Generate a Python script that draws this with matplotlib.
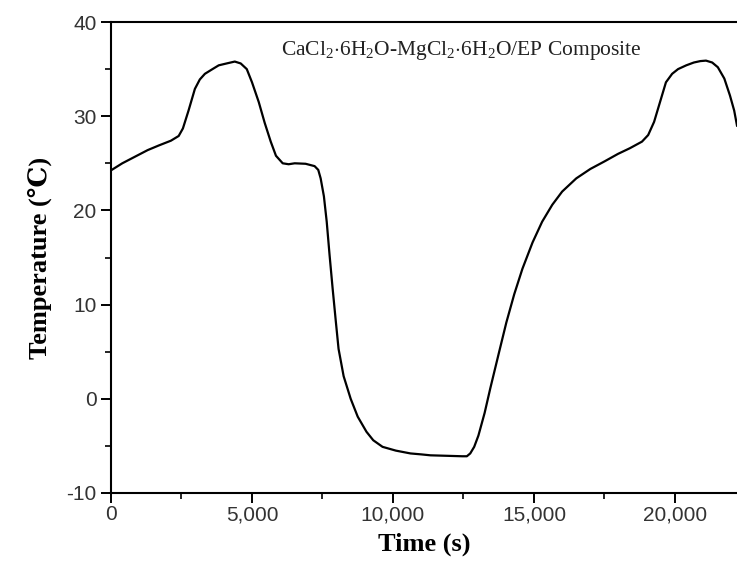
import numpy as np
import matplotlib.pyplot as plt
from matplotlib.ticker import MultipleLocator, StrMethodFormatter

# time (s) and temperature (C)
time_s = [0, 400, 850, 1300, 1700, 2125, 2400, 2550, 2750, 2975, 3150, 3330,
          3600, 3820, 4100, 4390, 4600, 4815, 5000, 5240, 5450, 5665, 5850,
          6090, 6300, 6515, 6900, 7220, 7350, 7435, 7550, 7650, 7750, 7860,
          7970, 8070, 8250, 8500, 8750, 9060, 9300, 9630, 10100, 10620,
          11000, 11330, 11900, 12460, 12620, 12740, 12880, 13030, 13250,
          13450, 13750, 14020, 14300, 14590, 14950, 15290, 15650, 16000,
          16500, 17000, 17500, 17980, 18400, 18830, 19050, 19260, 19480,
          19680, 19900, 20110, 20400, 20670, 20900, 21100, 21320, 21520,
          21750, 21950, 22100, 22200]
temp_c = [24.25, 25.0, 25.7, 26.4, 26.9, 27.4, 27.9, 28.7, 30.6, 32.9, 33.9, 34.5,
          35.0, 35.4, 35.6, 35.8, 35.6, 35.0, 33.6, 31.5, 29.3, 27.3, 25.8,
          25.0, 24.9, 25.0, 24.95, 24.7, 24.3, 23.4, 21.5, 18.8, 15.3, 11.7,
          8.3, 5.3, 2.4, 0.0, -1.9, -3.5, -4.4, -5.1, -5.5, -5.8,
          -5.9, -6.0, -6.05, -6.1, -6.1, -5.8, -5.1, -3.9, -1.5,
          1.1, 4.8, 8.1, 11.1, 13.8, 16.6, 18.8, 20.6, 22.0,
          23.4, 24.4, 25.2, 26.0, 26.6, 27.3, 28.0, 29.4, 31.6,
          33.6, 34.5, 35.0, 35.4, 35.7, 35.85, 35.9, 35.7, 35.2,
          34.0, 32.2, 30.6, 29.0]

x_ticks = [0, 5000, 10000, 15000, 20000]
y_ticks = [-10, 0, 10, 20, 30, 40]
label_text = r'CaCl$_2$$\cdot$6H$_2$O-MgCl$_2$$\cdot$6H$_2$O/EP Composite'

plt.rcParams['mathtext.fontset'] = 'custom'
plt.rcParams['mathtext.rm'] = 'Liberation Serif'
plt.rcParams['mathtext.it'] = 'Liberation Serif:italic'
plt.rcParams['axes.unicode_minus'] = False

fig = plt.figure(figsize=(7.37, 5.70), dpi=100)
ax = fig.add_axes([111/737, 1 - 493/570, 1 - 111/737, (493 - 22)/570])

ax.plot(time_s, temp_c, color='black', linewidth=1.6)

ax.set_xlim(0, 22200)
ax.set_ylim(-10, 40)
ax.set_xticks(x_ticks)
ax.set_yticks(y_ticks)
ax.xaxis.set_minor_locator(MultipleLocator(2500))
ax.yaxis.set_minor_locator(MultipleLocator(5))
ax.xaxis.set_major_formatter(StrMethodFormatter('{x:,.0f}'))

ax.tick_params(which='major', direction='out', length=7, width=1.4,
               labelsize=15, labelcolor='#333333')
ax.tick_params(axis='x', which='major', pad=2)
ax.tick_params(which='minor', direction='out', length=4, width=1.2)
for lbl in ax.get_xticklabels() + ax.get_yticklabels():
    lbl.set_family('Liberation Sans')

for side in ['left', 'bottom', 'top']:
    ax.spines[side].set_linewidth(1.5)
ax.spines['right'].set_visible(False)

ax.set_xlabel('Time (s)', fontsize=19, fontweight='bold',
              family='Liberation Serif', labelpad=6)
ax.set_ylabel('Temperature (℃)', fontsize=19, fontweight='bold',
              family=['Liberation Serif', 'DejaVu Serif'], labelpad=10)

ax.text(0.56, 0.94, label_text, transform=ax.transAxes, ha='center', va='center',
        fontsize=15.5, family='Liberation Serif', color='#222222')

fig.savefig('out.png', dpi=100)
